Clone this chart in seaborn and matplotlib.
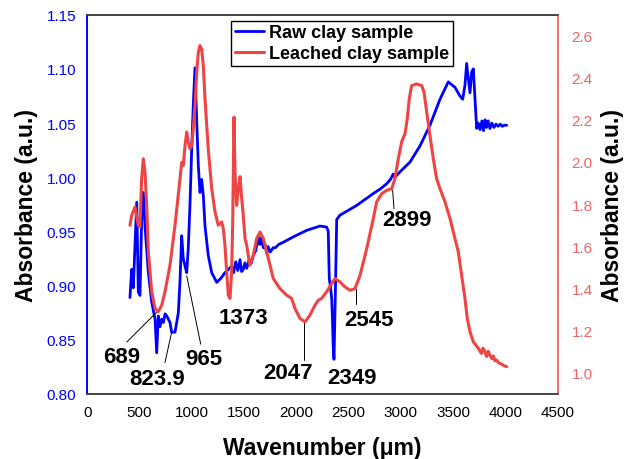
import matplotlib
matplotlib.use("Agg")
import matplotlib.pyplot as plt
import seaborn as sns
import pandas as pd

# ---- data ----
raw_wn = [408, 425, 440, 473, 488, 504, 520, 536, 552, 584, 616, 648, 664, 679, 695, 712, 728, 744, 760,
          791, 807, 839, 871, 887, 903, 918, 935, 951, 966, 982, 999, 1014, 1030, 1047, 1062, 1078, 1094,
          1110, 1126, 1157, 1190, 1238, 1280, 1317, 1350, 1381, 1400, 1420, 1440, 1461, 1476, 1492, 1508,
          1525, 1550, 1570, 1588, 1610, 1636, 1650, 1665, 1684, 1700, 1716, 1730, 1750, 1779, 1800, 1830,
          1875, 1971, 2099, 2226, 2290, 2305, 2315, 2325, 2338, 2345, 2352, 2360, 2366, 2372, 2386, 2417,
          2577, 2736, 2800, 2864, 2900, 2927, 2943, 2991, 3087, 3183, 3278, 3374, 3453, 3517, 3565, 3591,
          3613, 3629, 3645, 3661, 3677, 3693, 3709, 3725, 3740, 3757, 3775, 3790, 3805, 3820, 3835, 3852,
          3870, 3890, 3910, 3930, 3950, 3970, 3990, 4012]
raw_abs = [0.889, 0.915, 0.898, 0.977, 0.894, 0.891, 0.961, 0.986, 0.955, 0.912, 0.885, 0.869, 0.838, 0.872,
           0.862, 0.869, 0.866, 0.874, 0.872, 0.866, 0.857, 0.857, 0.875, 0.905, 0.946, 0.925, 0.918, 0.912,
           0.935, 0.974, 1.027, 1.067, 1.101, 1.051, 1.011, 0.986, 0.998, 0.983, 0.955, 0.928, 0.912, 0.903,
           0.907, 0.912, 0.915, 0.918, 0.912, 0.922, 0.914, 0.924, 0.913, 0.915, 0.921, 0.916, 0.924, 0.921,
           0.928, 0.932, 0.945, 0.938, 0.944, 0.935, 0.938, 0.930, 0.936, 0.931, 0.935, 0.935, 0.938, 0.940,
           0.945, 0.951, 0.955, 0.954, 0.950, 0.906, 0.900, 0.888, 0.870, 0.845, 0.832, 0.860, 0.888, 0.961,
           0.965, 0.974, 0.985, 0.989, 0.994, 0.998, 1.003, 1.000, 1.005, 1.014, 1.029, 1.048, 1.072, 1.088,
           1.083, 1.075, 1.072, 1.085, 1.105, 1.091, 1.078, 1.097, 1.100, 1.072, 1.045, 1.050, 1.044, 1.052,
           1.043, 1.053, 1.046, 1.052, 1.045, 1.050, 1.046, 1.049, 1.047, 1.049, 1.047, 1.048, 1.048]

leached_wn = [408, 425, 456, 488, 504, 520, 536, 552, 568, 584, 616, 648, 679, 712, 743, 791, 839, 887, 903,
              918, 935, 951, 966, 982, 999, 1014, 1030, 1047, 1062, 1078, 1094, 1110, 1126, 1157, 1190, 1222,
              1253, 1286, 1301, 1317, 1333, 1349, 1365, 1381, 1391, 1397, 1403, 1413, 1429, 1445, 1461, 1477,
              1492, 1509, 1525, 1540, 1556, 1588, 1620, 1652, 1684, 1716, 1748, 1779, 1843, 1907, 1955, 1987,
              2035, 2083, 2130, 2178, 2210, 2242, 2290, 2338, 2370, 2417, 2465, 2513, 2561, 2609, 2673, 2736,
              2768, 2816, 2864, 2912, 2943, 2975, 3007, 3039, 3061, 3080, 3103, 3151, 3199, 3221, 3247, 3278,
              3310, 3342, 3374, 3422, 3470, 3517, 3549, 3581, 3613, 3635, 3661, 3693, 3741, 3770, 3785, 3804,
              3820, 3835, 3852, 3870, 3885, 3900, 3916, 3935, 3960, 3985, 4012]
leached_abs = [1.699, 1.746, 1.786, 1.699, 1.691, 1.920, 2.015, 1.952, 1.794, 1.573, 1.383, 1.303, 1.288,
               1.319, 1.383, 1.509, 1.699, 1.920, 1.998, 1.983, 2.078, 2.142, 2.095, 2.063, 2.078, 2.158,
               2.268, 2.427, 2.522, 2.553, 2.537, 2.458, 2.300, 2.063, 1.873, 1.762, 1.699, 1.715, 1.683,
               1.604, 1.478, 1.367, 1.351, 1.478, 1.715, 1.952, 2.213, 1.952, 1.794, 1.873, 1.930, 1.826,
               1.746, 1.636, 1.604, 1.556, 1.509, 1.556, 1.636, 1.667, 1.636, 1.573, 1.509, 1.446, 1.398,
               1.367, 1.351, 1.303, 1.256, 1.240, 1.272, 1.319, 1.343, 1.351, 1.383, 1.422, 1.446, 1.430,
               1.406, 1.390, 1.398, 1.461, 1.588, 1.731, 1.810, 1.849, 1.865, 1.873, 1.920, 2.015, 2.095,
               2.134, 2.205, 2.300, 2.363, 2.371, 2.363, 2.332, 2.237, 2.126, 2.015, 1.920, 1.873, 1.810,
               1.731, 1.636, 1.573, 1.461, 1.351, 1.256, 1.193, 1.145, 1.114, 1.090, 1.115, 1.098, 1.075,
               1.100, 1.082, 1.065, 1.078, 1.055, 1.058, 1.045, 1.040, 1.032, 1.027]

series_names = ["Raw clay sample", "Leached clay sample"]
x_ticks = [0, 500, 1000, 1500, 2000, 2500, 3000, 3500, 4000, 4500]
left_ticks = [0.80, 0.85, 0.90, 0.95, 1.00, 1.05, 1.10, 1.15]
right_ticks = [1.0, 1.2, 1.4, 1.6, 1.8, 2.0, 2.2, 2.4, 2.6]

# peak labels: text, text pos (wavenumber, left-axis value), optional leader line end points
peak_labels = ["689", "823.9", "965", "1373", "2047", "2349", "2545", "2899"]
label_pos = [(329, 0.835), (664, 0.8145), (1110, 0.833), (1492, 0.871),
             (1923, 0.820), (2529, 0.815), (2695, 0.869), (3055, 0.961)]
leader_lines = [((378, 0.848), (679, 0.877)), ((743, 0.829), (807, 0.857)),
                ((1085, 0.846), (951, 0.909)), None,
                ((2076, 0.831), (2076, 0.868)), None,
                ((2568, 0.883), (2568, 0.897)), ((2934, 0.971), (2921, 0.988))]

df_raw = pd.DataFrame({"wn": raw_wn, "abs": raw_abs})
df_lea = pd.DataFrame({"wn": leached_wn, "abs": leached_abs})

sns.set_style("white")
plt.rcParams["font.family"] = ["Liberation Sans", "DejaVu Sans"]
plt.rcParams["text.color"] = "black"
plt.rcParams["axes.labelcolor"] = "black"
plt.rcParams["xtick.color"] = "black"
plt.rcParams["ytick.color"] = "black"

BLUE = "#0000FF"
RED = "#EE4444"
RED_TXT = "#F06464"

fig = plt.figure(figsize=(6.24, 4.60), dpi=100)
ax = fig.add_axes([87.3 / 624, 65 / 460, 470.4 / 624, 379.3 / 460])
ax2 = ax.twinx()

sns.lineplot(data=df_raw, x="wn", y="abs", ax=ax, color=BLUE, lw=2.0, sort=False,
             estimator=None, label=series_names[0], legend=False)
sns.lineplot(data=df_lea, x="wn", y="abs", ax=ax2, color=RED, lw=2.2, sort=False,
             estimator=None, label=series_names[1], legend=False)

ax.set_xlim(0, 4500)
ax.set_ylim(0.80, 1.15)
ax2.set_ylim(0.897, 2.70)
ax.set_xticks(x_ticks)
ax.set_xticklabels([str(t) for t in x_ticks], fontsize=11, color="black")
ax.set_yticks(left_ticks)
ax.set_yticklabels([f"{t:.2f}" for t in left_ticks], fontsize=11, color=BLUE)
ax2.set_yticks(right_ticks)
ax2.set_yticklabels([f"{t:.1f}" for t in right_ticks], fontsize=11, color=RED_TXT)
ax.tick_params(axis="both", length=0, pad=8)
ax2.tick_params(axis="y", length=0, pad=10)

ax.set_xlabel("Wavenumber (μm)", fontsize=16.5, fontweight="bold", labelpad=12, color="black")
ax.set_ylabel("Absorbance (a.u.)", fontsize=16.5, fontweight="bold", labelpad=6, color="black")
ax2.set_ylabel("Absorbance (a.u.)", fontsize=16.5, fontweight="bold", labelpad=6, color="black")

for a in (ax, ax2):
    a.spines["top"].set_color("#444444")
    a.spines["bottom"].set_color("#444444")
    a.spines["left"].set_color(BLUE)
    a.spines["right"].set_color("#F07070")
    for s in a.spines.values():
        s.set_linewidth(1.2)

for txt, pos, ln in zip(peak_labels, label_pos, leader_lines):
    ax.text(pos[0], pos[1], txt, fontsize=16, fontweight="bold", ha="center", va="center",
            color="black", zorder=5)
    if ln is not None:
        ax.plot([ln[0][0], ln[1][0]], [ln[0][1], ln[1][1]], color="black", lw=0.7, zorder=5)

h1, l1 = ax.get_legend_handles_labels()
h2, l2 = ax2.get_legend_handles_labels()
leg = ax2.legend(h1 + h2, l1 + l2, loc="upper left", bbox_to_anchor=(0.3055, 0.984),
                 borderaxespad=0, fancybox=False, edgecolor="black", framealpha=1,
                 prop={"weight": "bold", "size": 13}, handlelength=1.6, handletextpad=0.3,
                 labelspacing=0.2, borderpad=0.2)
leg.get_frame().set_linewidth(1.0)
for t in leg.get_texts():
    t.set_color("black")

fig.savefig("out.png", dpi=100)
